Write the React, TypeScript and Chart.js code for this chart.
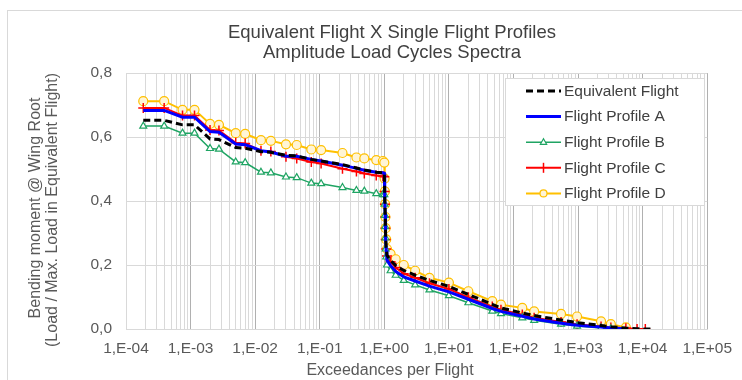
import React, { useEffect, useRef } from "react";
import { Chart, registerables } from "chart.js";

Chart.register(...registerables);

// ---------- data ----------
const exceedances = [
  1.85e-4, 3.9e-4, 7.5e-4, 1.15e-3, 2e-3, 2.75e-3, 5e-3, 7e-3, 1.23e-2, 1.75e-2,
  3e-2, 4.4e-2, 7.4e-2, 0.105, 0.225, 0.37, 0.49, 0.75, 0.95,
  1.0, 1.01, 1.02, 1.03, 1.04, 1.05, 1.07,
  1.1, 1.25, 1.5, 2, 3, 5, 10, 20, 47, 64, 137, 209, 545, 965, 2270, 3220, 5500, 8200, 11000, 15000,
];

const equivalentFlight = [
  0.652, 0.652, 0.638, 0.638, 0.594, 0.592, 0.567, 0.565, 0.554, 0.552,
  0.543, 0.541, 0.53, 0.525, 0.514, 0.503, 0.497, 0.49, 0.488,
  0.487, 0.44, 0.4, 0.36, 0.32, 0.285, 0.255,
  0.23, 0.215, 0.198, 0.183, 0.168, 0.152, 0.133, 0.108, 0.077, 0.066, 0.05, 0.042, 0.028, 0.02, 0.011, 0.007, 0.003, 0.001, 0, 0,
];

const profileA = [
  0.683, 0.683, 0.662, 0.662, 0.617, 0.615, 0.578, 0.576, 0.557, 0.553,
  0.54, 0.54, 0.53, 0.525, 0.512, 0.502, 0.496, 0.49, 0.488,
  0.487, 0.44, 0.4, 0.36, 0.32, 0.28, 0.245,
  0.215, 0.198, 0.18, 0.163, 0.15, 0.134, 0.116, 0.093, 0.064, 0.055, 0.04, 0.031, 0.018, 0.012, 0.006, 0.003, 0.001, null, null, null,
];

const profileB = [
  0.634, 0.634, 0.612, 0.612, 0.564, 0.562, 0.522, 0.52, 0.49, 0.488,
  0.475, 0.473, 0.456, 0.454, 0.442, 0.433, 0.431, 0.423, 0.42,
  0.42, 0.39, 0.355, 0.32, 0.285, 0.25, 0.225,
  0.2, 0.182, 0.168, 0.152, 0.138, 0.122, 0.104, 0.082, 0.056, 0.048, 0.035, 0.027, 0.015, 0.009, 0.003, 0.001, null, null, null, null,
];

const profileC = [
  0.691, 0.691, 0.667, 0.667, 0.622, 0.62, 0.582, 0.58, 0.557, 0.555,
  0.538, 0.533, 0.522, 0.517, 0.501, 0.492, 0.486, 0.48, 0.477,
  0.476, 0.43, 0.39, 0.35, 0.315, 0.28, 0.25,
  0.228, 0.21, 0.192, 0.173, 0.16, 0.143, 0.125, 0.099, 0.07, 0.06, 0.045, 0.035, 0.022, 0.015, 0.008, 0.005, 0.002, 0, 0, null,
];

const profileD = [
  0.712, 0.712, 0.685, 0.685, 0.641, 0.638, 0.612, 0.61, 0.59, 0.588,
  0.577, 0.575, 0.561, 0.559, 0.55, 0.536, 0.533, 0.528, 0.525,
  0.52, 0.47, 0.43, 0.39, 0.35, 0.315, 0.28,
  0.25, 0.235, 0.218, 0.2, 0.182, 0.16, 0.145, 0.118, 0.087, 0.076, 0.066, 0.055, 0.047, 0.039, 0.024, 0.015, 0.005, null, null, null,
];

const seriesNames = ["Equivalent Flight", "Flight Profile A", "Flight Profile B", "Flight Profile C", "Flight Profile D"];
const titleLines = ["Equivalent Flight X Single Flight Profiles", "Amplitude Load Cycles Spectra"];
const xAxisTitle = "Exceedances per Flight";
const yAxisTitleLines = ["Bending moment @ Wing Root", "(Load / Max. Load in Equivalent Flight)"];
const decadeExponents = [-4, -3, -2, -1, 0, 1, 2, 3, 4, 5];

// ---------- styles ----------
const FONT = "'Liberation Sans', Arial, sans-serif";
const TEXT = "#404040";
const TICK = "#595959";
const GRID_MINOR = "#d9d9d9";
const GRID_MAJOR = "#b0b0b0";

const seriesStyles = [
  { color: "#000000", width: 3, dash: [7, 4], marker: "none", fill: "#000000", radius: 0 },
  { color: "#0000ff", width: 3, dash: [], marker: "none", fill: "#0000ff", radius: 0 },
  { color: "#1fa463", width: 1.5, dash: [], marker: "triangle", fill: "#ffffff", radius: 4 },
  { color: "#ff0000", width: 2, dash: [], marker: "cross", fill: "#ff0000", radius: 5 },
  { color: "#ffc000", width: 2, dash: [], marker: "circle", fill: "#fff5d6", radius: 4.5 },
];

const seriesValues = [equivalentFlight, profileA, profileB, profileC, profileD];

function fmtExp(v: number): string {
  const e = Math.round(Math.log10(v));
  const s = e < 0 ? "-" : "+";
  const a = Math.abs(e);
  return "1,E" + s + (a < 10 ? "0" + a : "" + a);
}

function isDecade(v: number): boolean {
  const l = Math.log10(v);
  return Math.abs(l - Math.round(l)) < 1e-6;
}

function drawMarker(ctx: CanvasRenderingContext2D, type: string, x: number, y: number, r: number, color: string, fill: string) {
  ctx.save();
  ctx.setLineDash([]);
  ctx.strokeStyle = color;
  ctx.fillStyle = fill;
  ctx.lineWidth = 1.2;
  if (type === "triangle") {
    ctx.beginPath();
    ctx.moveTo(x, y - r);
    ctx.lineTo(x + r * 0.9, y + r * 0.6);
    ctx.lineTo(x - r * 0.9, y + r * 0.6);
    ctx.closePath();
    ctx.fill();
    ctx.stroke();
  } else if (type === "cross") {
    ctx.lineWidth = 1.5;
    ctx.beginPath();
    ctx.moveTo(x, y - r);
    ctx.lineTo(x, y + r);
    ctx.stroke();
  } else if (type === "circle") {
    ctx.beginPath();
    ctx.arc(x, y, r, 0, Math.PI * 2);
    ctx.fill();
    ctx.stroke();
  }
  ctx.restore();
}

const decorPlugin = {
  id: "decor",
  beforeDraw(chart: any) {
    const ctx: CanvasRenderingContext2D = chart.ctx;
    ctx.save();
    ctx.fillStyle = "#ffffff";
    ctx.fillRect(0, 0, chart.width, chart.height);
    ctx.strokeStyle = "#d9d9d9";
    ctx.lineWidth = 1;
    ctx.strokeRect(7.5, 10.5, 900, 500);
    ctx.restore();
  },
  afterDraw(chart: any) {
    const ctx: CanvasRenderingContext2D = chart.ctx;
    ctx.save();
    // title
    ctx.fillStyle = TEXT;
    ctx.textAlign = "center";
    ctx.textBaseline = "middle";
    ctx.font = `18.5px ${FONT}`;
    ctx.fillText(titleLines[0], 392, 33);
    ctx.fillText(titleLines[1], 392, 53);
    // x axis title
    ctx.fillStyle = TICK;
    ctx.font = `16px ${FONT}`;
    ctx.fillText(xAxisTitle, 390, 371);
    // y axis title
    ctx.save();
    ctx.translate(36, 208);
    ctx.rotate(-Math.PI / 2);
    ctx.fillText(yAxisTitleLines[0], 0, 0);
    ctx.restore();
    ctx.save();
    ctx.translate(53, 210);
    ctx.rotate(-Math.PI / 2);
    ctx.fillText(yAxisTitleLines[1], 0, 0);
    ctx.restore();

    // legend
    const lx = 505.5, ly = 78.5, lw = 199, lh = 127;
    ctx.fillStyle = "#ffffff";
    ctx.fillRect(lx, ly, lw, lh);
    ctx.strokeStyle = "#d9d9d9";
    ctx.lineWidth = 1;
    ctx.strokeRect(lx, ly, lw, lh);
    ctx.textAlign = "left";
    ctx.textBaseline = "middle";
    ctx.font = `15.5px ${FONT}`;
    for (let i = 0; i < seriesNames.length; i++) {
      const st = seriesStyles[i];
      const y = 91 + i * 25.6;
      ctx.save();
      ctx.strokeStyle = st.color;
      ctx.lineWidth = st.width;
      ctx.setLineDash(st.dash);
      ctx.beginPath();
      ctx.moveTo(526, y);
      ctx.lineTo(561, y);
      ctx.stroke();
      ctx.restore();
      if (st.marker !== "none") {
        drawMarker(ctx, st.marker, 543.5, y, st.marker === "cross" ? 5 : 3.5, st.color, st.fill);
      }
      ctx.fillStyle = TEXT;
      ctx.fillText(seriesNames[i], 564, y + 0.5);
    }
    ctx.restore();
  },
};

export default function App() {
  const ref = useRef<HTMLCanvasElement | null>(null);

  useEffect(() => {
    if (!ref.current) return;
    Chart.defaults.font.family = FONT;
    const datasets = seriesValues.map((vals, i) => {
      const st = seriesStyles[i];
      return {
        label: seriesNames[i],
        data: exceedances.map((x, j) => ({ x, y: vals[j] })),
        borderColor: st.color,
        backgroundColor: st.fill,
        borderWidth: st.width,
        borderDash: st.dash,
        pointStyle: st.marker === "none" ? "circle" : st.marker,
        pointRadius: st.radius,
        pointBorderWidth: st.marker === "cross" ? 1.5 : 1.2,
        pointBorderColor: st.color,
        pointBackgroundColor: st.fill,
        tension: 0,
        spanGaps: false,
        order: 0,
      };
    });

    const chart = new Chart(ref.current, {
      type: "line",
      data: { datasets: datasets as any },
      options: {
        animation: false,
        responsive: false,
        devicePixelRatio: 1,
        layout: { padding: { left: 0, right: 34, top: 73, bottom: 1 } },
        plugins: {
          legend: { display: false },
          title: { display: false },
          tooltip: { enabled: false },
        },
        scales: {
          x: {
            type: "logarithmic",
            min: 1e-4,
            max: 1e5,
            afterBuildTicks: (scale: any) => {
              const t: any[] = [];
              for (const e of decadeExponents) {
                for (let k = 1; k <= 9; k++) {
                  const v = k * Math.pow(10, e);
                  if (v > 1e5 * 1.0001) break;
                  t.push({ value: parseFloat(v.toPrecision(6)) });
                }
              }
              scale.ticks = t;
            },
            afterFit: (scale: any) => {
              scale.height = 50;
            },
            ticks: {
              autoSkip: false,
              maxRotation: 0,
              minRotation: 0,
              padding: 10,
              color: TICK,
              font: { size: 15.5, family: FONT },
              callback: (v: any) => (isDecade(Number(v)) ? fmtExp(Number(v)) : ""),
            },
            grid: {
              drawTicks: false,
              color: (c: any) => (c.tick && isDecade(c.tick.value) ? GRID_MAJOR : GRID_MINOR),
              lineWidth: 1,
            },
            border: { color: "#d9d9d9" },
          },
          y: {
            type: "linear",
            min: 0,
            max: 0.8,
            afterFit: (scale: any) => {
              scale.width = 126;
            },
            ticks: {
              stepSize: 0.2,
              padding: 14,
              color: TICK,
              font: { size: 15.5, family: FONT },
              callback: (v: any) => Number(v).toFixed(1).replace(".", ","),
            },
            grid: { drawTicks: false, color: GRID_MINOR },
            border: { color: "#d9d9d9" },
          },
        },
      },
      plugins: [decorPlugin],
    });
    return () => chart.destroy();
  }, []);

  return (
    <div style={{ position: "fixed", left: 0, top: 0, width: 742, height: 380 }}>
      <canvas ref={ref} width={742} height={380} style={{ display: "block" }} />
    </div>
  );
}
